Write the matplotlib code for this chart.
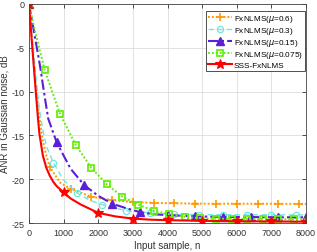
import matplotlib
matplotlib.use("Agg")
import matplotlib.pyplot as plt
import numpy as np

# mu = 0.6 (orange, dotted, plus markers every 600)
x_06 = [0, 100, 200, 300, 400, 500, 600, 900, 1200, 1800, 2400, 3000, 3600, 4200, 4800, 5400, 6000, 6600, 7200, 7800, 8000]
y_06 = [0, -5.0, -9.5, -13.0, -15.6, -17.3, -18.6, -20.4, -21.1, -22.0, -22.4, -22.6, -22.7, -22.75, -22.78, -22.8, -22.8, -22.8, -22.8, -22.82, -22.82]
m_06 = [0, 600, 1200, 1800, 2400, 3000, 3600, 4200, 4800, 5400, 6000, 6600, 7200, 7800]

# mu = 0.3 (cyan, dashed, circle markers every 700)
x_03 = [0, 100, 200, 300, 400, 500, 700, 1000, 1400, 1750, 2100, 2800, 3500, 4200, 4900, 5600, 6300, 7000, 7700, 8000]
y_03 = [0, -4.0, -8.3, -12.0, -14.4, -16.2, -18.1, -20.1, -21.6, -22.4, -22.9, -23.6, -23.85, -24.0, -24.05, -24.05, -24.07, -24.07, -24.08, -24.08]
m_03 = [0, 700, 1400, 2100, 2800, 3500, 4200, 4900, 5600, 6300, 7000, 7700]

# mu = 0.15 (purple, dash-dot, triangle markers every 800)
x_015 = [0, 150, 316, 450, 556, 800, 1200, 1600, 2000, 2400, 2800, 3200, 3600, 4000, 4800, 5600, 6400, 7200, 8000]
y_015 = [0, -3.3, -7.0, -10.5, -13.1, -15.8, -18.8, -20.7, -21.9, -22.8, -23.3, -23.75, -24.0, -24.1, -24.25, -24.3, -24.32, -24.35, -24.35]
m_015 = [0, 800, 1600, 2400, 3200, 4000, 4800, 5600, 6400, 7200, 8000]

# mu = 0.075 (green, dotted, square markers every 450)
x_0075 = [0, 200, 450, 900, 1350, 1800, 2250, 2700, 3150, 3600, 4050, 4500, 4950, 5400, 5850, 6300, 6750, 7200, 7650, 8000]
y_0075 = [0, -3.5, -7.5, -12.6, -16.1, -18.7, -20.6, -22.0, -22.9, -23.6, -24.0, -24.3, -24.45, -24.5, -24.52, -24.55, -24.55, -24.57, -24.57, -24.58]
m_0075 = [0, 450, 900, 1350, 1800, 2250, 2700, 3150, 3600, 4050, 4500, 4950, 5400, 5850, 6300, 6750, 7200, 7650]

# SSS-FxNLMS (red, solid, star markers every 1000)
x_sss = [0, 100, 200, 260, 300, 400, 500, 600, 700, 800, 1000, 1200, 1500, 2000, 2500, 3000, 3500, 4000, 5000, 6000, 7000, 8000]
y_sss = [0, -5.2, -10.2, -13.1, -14.8, -17.3, -18.7, -19.6, -20.3, -20.8, -21.5, -22.2, -22.9, -23.85, -24.25, -24.5, -24.62, -24.68, -24.75, -24.8, -24.82, -24.85]
m_sss = [0, 1000, 2000, 3000, 4000, 5000, 6000, 7000, 8000]

labels = ["FxNLMS($\\mu$=0.6)", "FxNLMS($\\mu$=0.3)", "FxNLMS($\\mu$=0.15)", "FxNLMS($\\mu$=0.075)", "SSS-FxNLMS"]
xticks = [0, 1000, 2000, 3000, 4000, 5000, 6000, 7000, 8000]
yticks = [-25, -20, -15, -10, -5, 0]

plt.rcParams['font.family'] = ['Liberation Sans', 'DejaVu Sans']
plt.rcParams['mathtext.fontset'] = 'dejavusans'

fig = plt.figure(figsize=(3.17, 2.53), dpi=100)
ax = fig.add_axes([29/317, 1-224/253, (306-29)/317, (224-5)/253])

series = [
    (x_06, y_06, m_06, dict(color='#FF9900', linestyle=(0, (1, 1)), marker='+', ms=5.5, mew=1.2, lw=1.4, mfc='none')),
    (x_03, y_03, m_03, dict(color='#6EE8E0', linestyle=(0, (4, 2.5)), marker='o', ms=4.5, mew=0.9, lw=1.0, mfc='none')),
    (x_015, y_015, m_015, dict(color='#5A1FD6', linestyle=(0, (5, 1.5, 1.2, 1.5)), marker='^', ms=5.5, mew=1.0, lw=1.5, mfc='#5A1FD6')),
    (x_0075, y_0075, m_0075, dict(color='#66EE11', linestyle=(0, (1, 1)), marker='s', ms=4.5, mew=1.3, lw=1.4, mfc='none')),
    (x_sss, y_sss, m_sss, dict(color='#FF0000', linestyle='-', marker='*', ms=7.5, mew=0.8, lw=1.5, mfc='#FF0000')),
]

handles = []
for (xs, ys, ms_, st), lab in zip(series, labels):
    idx = [xs.index(v) for v in ms_]
    h, = ax.plot(xs, ys, markevery=idx, label=lab, **st)
    handles.append(h)

ax.set_xlim(0, 8000)
ax.set_ylim(-25, 0)
ax.set_xticks(xticks)
ax.set_yticks(yticks)
ax.set_xticklabels([str(t) for t in xticks])
ax.set_yticklabels([str(t) for t in yticks])
ax.grid(True, color='#DDDDDD', linewidth=0.6)
ax.set_axisbelow(True)
ax.tick_params(direction='in', length=3, width=0.6, labelsize=6.5, colors='#333333', top=True, right=True)
for s in ax.spines.values():
    s.set_color('#444444')
    s.set_linewidth(0.6)
ax.set_xlabel('Input sample, n', fontsize=7, color='#333333', labelpad=2)
ax.set_ylabel('ANR in Gaussian noise, dB', fontsize=7, color='#333333', labelpad=1)

leg = ax.legend(handles=handles, loc='upper right', fontsize=5.9, handlelength=2.9, handletextpad=0.3,
                borderpad=0.25, labelspacing=0.15, borderaxespad=0.0, bbox_to_anchor=(0.996, 0.97),
                fancybox=False, framealpha=1, edgecolor='#333333')
leg.get_frame().set_linewidth(0.6)

fig.savefig('out.png', dpi=100)
